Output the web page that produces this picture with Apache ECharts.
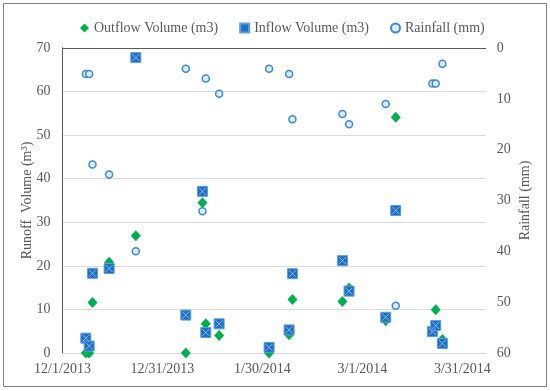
<!DOCTYPE html>
<html><head><meta charset="utf-8">
<script src="https://cdn.jsdelivr.net/npm/echarts@6/dist/echarts.min.js"></script>
<style>html,body{margin:0;padding:0;background:#fff}#c{width:550px;height:391px}</style>
</head><body><div id="c"></div>
<script>
// Event dates (axis: day 0 = 12/1/2013, labels every 30 days)
const dates = ['2013-12-08','2013-12-09','2013-12-10','2013-12-15','2013-12-23',
  '2014-01-07','2014-01-12','2014-01-13','2014-01-17','2014-02-01',
  '2014-02-07','2014-02-08','2014-02-23','2014-02-25','2014-03-08',
  '2014-03-11','2014-03-22','2014-03-23','2014-03-25'];
const outflow  = [0, 0, 11.6, 20.8, 26.9, 0, 34.5, 6.7, 4.0, 0, 4.2, 12.3, 11.8, 14.9, 7.4, 54.1, null, 9.9, 3.1];
const inflow   = [3.4, 1.6, 18.3, 19.4, 67.8, 8.7, 37.1, 4.7, 6.7, 1.3, 5.3, 18.2, 21.2, 14.2, 8.2, 32.7, 4.9, 6.3, 2.2];
const rainfall = [5.1, 5.1, 22.9, 24.9, 40.0, 4.1, 32.1, 6.0, 9.0, 4.1, 5.1, 14.0, 13.0, 15.0, 11.0, 50.7, 7.0, 7.0, 3.1];
const xTicks = ['12/1/2013','12/31/2013','1/30/2014','3/1/2014','3/31/2014'];
const legendNames = ['Outflow Volume (m3)','Inflow Volume (m3)','Rainfall (mm)'];

const base = Date.UTC(2013, 11, 1);
const dayOf = s => { const p = s.split('-').map(Number); return (Date.UTC(p[0], p[1]-1, p[2]) - base) / 86400000; };
const pts = arr => dates.map((d, i) => [dayOf(d), arr[i]]).filter(p => p[1] !== null);

const font = 'Liberation Serif';
const txt = '#595959';
const chart = echarts.init(document.getElementById('c'));
chart.setOption({
  animation: false,
  textStyle: {fontFamily: font},
  graphic: [{type: 'rect', shape: {x: 3.5, y: 3.5, width: 543, height: 383}, style: {fill: 'none', stroke: '#808080', lineWidth: 1}, silent: true}],
  legend: {
    top: 16, left: 75, itemGap: 21, itemWidth: 9, itemHeight: 9,
    textStyle: {fontFamily: font, fontSize: 14, color: txt},
    data: [
      {name: legendNames[0], icon: 'diamond'},
      {name: legendNames[1], icon: 'rect'},
      {name: legendNames[2], icon: 'circle'}
    ]
  },
  grid: {left: 62.5, right: 64.3, top: 48, bottom: 38, show: false},
  xAxis: [{
    type: 'value', min: 0, max: 127, interval: 30,
    axisLine: {show: true, lineStyle: {color: '#d9d9d9'}},
    axisTick: {show: false}, splitLine: {show: false},
    axisLabel: {color: txt, fontSize: 14, margin: 9, fontFamily: font, showMaxLabel: false,
      formatter: v => (v % 30 === 0 && xTicks[v / 30]) ? xTicks[v / 30] : ''}
  }, {
    type: 'value', position: 'top', min: 0, max: 127,
    axisLine: {show: true, lineStyle: {color: '#595959'}},
    axisTick: {show: false}, axisLabel: {show: false}, splitLine: {show: false}
  }],
  yAxis: [{
    type: 'value', min: 0, max: 70, interval: 10,
    name: 'Runoff  Volume (m³)', nameLocation: 'middle', nameGap: 28, nameRotate: 90, nameMoveOverlap: false,
    nameTextStyle: {color: txt, fontSize: 14, fontFamily: font},
    axisLine: {show: true, lineStyle: {color: '#595959'}},
    axisTick: {show: false},
    splitLine: {show: true, lineStyle: {color: '#d9d9d9'}},
    axisLabel: {color: txt, fontSize: 14, margin: 12, fontFamily: font}
  }, {
    type: 'value', min: 0, max: 60, interval: 10, inverse: true, position: 'right',
    name: 'Rainfall (mm)', nameLocation: 'middle', nameGap: 33, nameRotate: 90, nameMoveOverlap: false,
    nameTextStyle: {color: txt, fontSize: 14, fontFamily: font},
    axisLine: {show: true, lineStyle: {color: '#595959'}},
    axisTick: {show: false}, splitLine: {show: false},
    axisLabel: {color: txt, fontSize: 14, margin: 11, fontFamily: font}
  }],
  series: [{
    name: legendNames[0], type: 'scatter', yAxisIndex: 0, symbol: 'diamond', symbolSize: [10, 11],
    itemStyle: {color: '#00b050', opacity: 1}, data: pts(outflow), z: 2
  }, {
    name: legendNames[1], type: 'scatter', yAxisIndex: 0, symbol: 'rect', symbolSize: 10,
    itemStyle: {color: '#1f6fc4', borderColor: '#5b9fe0', borderWidth: 1, opacity: 1}, data: pts(inflow), z: 3
  }, {
    name: 'inflowX', type: 'scatter', yAxisIndex: 0, symbol: 'path://M0,0L10,10M10,0L0,10', symbolSize: 7,
    itemStyle: {color: 'none', borderColor: '#86b9ea', borderWidth: 1, opacity: 1}, data: pts(inflow), z: 3, silent: true
  }, {
    name: legendNames[2], type: 'scatter', yAxisIndex: 1, symbol: 'circle', symbolSize: 7,
    itemStyle: {color: '#dcebf8', borderColor: '#3a89d6', borderWidth: 1.5, opacity: 1}, data: pts(rainfall), z: 4
  }]
});
</script></body></html>
